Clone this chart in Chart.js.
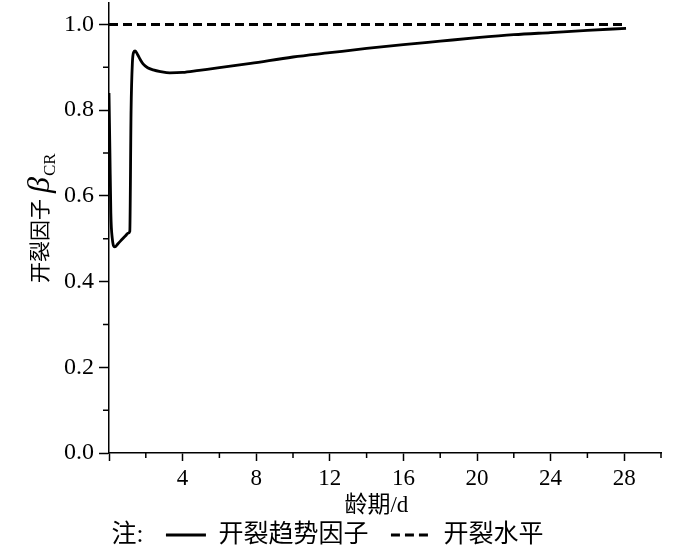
<!DOCTYPE html>
<html>
<head>
<meta charset="utf-8">
<script src="https://cdn.jsdelivr.net/npm/chart.js@4"></script>
<style>
  html, body { margin: 0; padding: 0; background: #fff; }
  #wrap { width: 700px; height: 553px; }
</style>
</head>
<body>
<div id="wrap"><canvas id="crackChart" width="700" height="553"></canvas></div>
<script>
// age (d) and cracking-trend factor
const ages = [0, 0.05, 0.1, 0.18, 0.31, 0.5, 0.7, 0.9, 1.05, 1.13, 1.2, 1.27, 1.34, 1.42, 1.55, 1.7, 1.85, 2.1, 2.4, 2.8, 3.3, 4.0, 4.9, 6, 7.7, 10, 12, 14, 16, 18, 20, 22, 24, 26, 28.1];
const betaCR = [0.84, 0.70, 0.56, 0.50, 0.481, 0.489, 0.498, 0.507, 0.513, 0.517, 0.80, 0.91, 0.935, 0.938, 0.93, 0.918, 0.908, 0.899, 0.894, 0.89, 0.887, 0.888, 0.893, 0.899, 0.909, 0.924, 0.934, 0.944, 0.953, 0.961, 0.969, 0.976, 0.981, 0.986, 0.991];

// cracking level
const levelAges = [0, 28];
const level = [1, 1];

const xMinor = [2, 6, 10, 14, 18, 22, 26, 30];
const yMinor = [0.1, 0.3, 0.5, 0.7, 0.9];

const serif = '"Liberation Serif", "Times New Roman", "Noto Sans CJK SC", serif';
const cjk = '"Noto Sans CJK SC", "Liberation Serif", sans-serif';

Chart.defaults.color = '#000';

const toXY = (xs, ys) => xs.map((x, i) => ({ x, y: ys[i] }));

// small ticks between the labelled ones
const minorTicks = {
    id: 'minorTicks',
    afterDraw(chart) {
        const { ctx, chartArea, scales: { x, y } } = chart;
        ctx.save();
        ctx.strokeStyle = '#000';
        ctx.lineWidth = 1.5;
        ctx.beginPath();
        xMinor.forEach(v => {
            const px = x.getPixelForValue(v);
            ctx.moveTo(px, chartArea.bottom);
            ctx.lineTo(px, chartArea.bottom + 5);
        });
        yMinor.forEach(v => {
            const py = y.getPixelForValue(v);
            ctx.moveTo(chartArea.left - 6, py);
            ctx.lineTo(chartArea.left, py);
        });
        ctx.stroke();
        ctx.restore();
    }
};

// y title with subscript: 开裂因子 β_CR
const yTitle = {
    id: 'yTitle',
    afterDraw(chart) {
        const { ctx } = chart;
        ctx.save();
        ctx.translate(39, 283);
        ctx.rotate(-Math.PI / 2);
        ctx.textAlign = 'left';
        ctx.textBaseline = 'alphabetic';
        ctx.fillStyle = '#000';
        ctx.font = '21px ' + cjk;
        const t1 = '开裂因子';
        ctx.fillText(t1, 0, 8);
        let w = ctx.measureText(t1).width + 6;
        ctx.font = 'italic 32px "Liberation Serif"';
        ctx.fillText('β', w, 10);
        w += ctx.measureText('β').width + 1;
        ctx.font = '17px "Liberation Serif"';
        ctx.fillText('CR', w, 16);
        ctx.restore();
    }
};

new Chart(document.getElementById('crackChart'), {
    type: 'line',
    data: {
        datasets: [{
            label: '开裂趋势因子  ',
            data: toXY(ages, betaCR),
            borderColor: '#000',
            backgroundColor: '#000',
            borderWidth: 2.8,
            pointRadius: 0,
            pointStyle: 'line',
            cubicInterpolationMode: 'monotone'
        }, {
            label: '开裂水平',
            data: toXY(levelAges, level),
            borderColor: '#000',
            backgroundColor: '#000',
            borderWidth: 3,
            borderDash: [9, 5],
            pointRadius: 0,
            pointStyle: 'line'
        }]
    },
    options: {
        responsive: false,
        animation: false,
        layout: { padding: { left: 49, right: 39, top: 3, bottom: -4.5 } },
        scales: {
            x: {
                type: 'linear',
                min: 0,
                max: 30,
                afterFit: s => { s.height = 59.5; s.paddingLeft = 0; s.paddingRight = 0; },
                grid: { drawOnChartArea: false, tickLength: 8, tickWidth: 1.5, tickColor: '#000' },
                border: { color: '#000', width: 1.5 },
                ticks: {
                    stepSize: 4,
                    includeBounds: false,
                    padding: 4,
                    maxRotation: 0,
                    autoSkip: false,
                    font: { family: serif, size: 23 },
                    callback: v => (v === 0 ? '' : v)
                },
                title: {
                    display: true,
                    text: '龄期/d   ',
                    padding: { top: 0, bottom: -5 },
                    font: { family: serif, size: 23, lineHeight: 1 }
                }
            },
            y: {
                min: 0,
                max: 1.05,
                afterFit: s => { s.width = 60; s.paddingTop = 0; s.paddingBottom = 0; },
                grid: { drawOnChartArea: false, tickLength: 10, tickWidth: 1.5, tickColor: '#000' },
                border: { color: '#000', width: 1.5 },
                ticks: {
                    stepSize: 0.2,
                    includeBounds: false,
                    padding: 5,
                    font: { family: serif, size: 24 },
                    callback: v => v.toFixed(1)
                }
            }
        },
        plugins: {
            tooltip: { enabled: false },
            legend: {
                position: 'bottom',
                align: 'start',
                labels: {
                    usePointStyle: true,
                    pointStyleWidth: 40,
                    boxWidth: 40,
                    padding: 10,
                    color: '#000',
                    font: { family: serif, size: 25 },
                    generateLabels: chart => {
                        const items = Chart.defaults.plugins.legend.labels.generateLabels(chart);
                        items.forEach(it => {
                            const ds = chart.data.datasets[it.datasetIndex];
                            it.pointStyle = 'line';
                            it.lineWidth = 2.8;
                            it.strokeStyle = '#000';
                            it.lineDash = ds.borderDash || [];
                        });
                        return [{
                            text: '注:  ',
                            pointStyle: 'line',
                            lineWidth: 0,
                            strokeStyle: 'rgba(0,0,0,0)',
                            fillStyle: 'rgba(0,0,0,0)',
                            hidden: false
                        }].concat(items);
                    }
                }
            }
        }
    },
    plugins: [minorTicks, yTitle]
});
</script>
</body>
</html>
